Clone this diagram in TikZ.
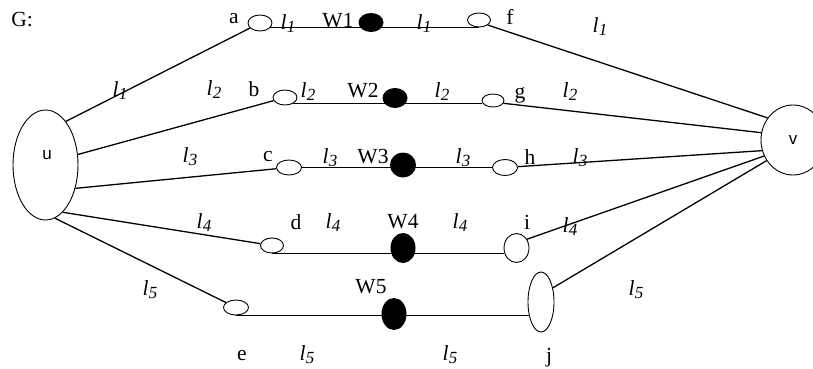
\documentclass[tikz,border=0pt]{standalone}
\usepackage{fontspec}
\setmainfont{Liberation Serif}
\newfontfamily\sansf{Liberation Sans}
\usetikzlibrary{shapes.geometric}
\newcommand{\lab}[1]{\textit{l}\kern0.3pt{\fontsize{17}{17}\selectfont\raisebox{-3pt}{\textit{#1}}}}
\begin{document}
\begin{tikzpicture}[x=1pt,y=-1pt,
  txt/.style={font=\fontsize{21.5}{24}\selectfont, inner sep=0pt},
  sanstxt/.style={font=\sansf\fontsize{17}{19}\selectfont, inner sep=0pt},
  hollow/.style={draw, ellipse, inner sep=0pt, line width=0.9pt},
  blackdot/.style={fill=black, ellipse, inner sep=0pt},
  wire/.style={line width=1.3pt}]
\useasboundingbox (0,0) rectangle (813,369);
% big vertices
\node[hollow, minimum width=65pt, minimum height=110pt] (u) at (45.5,165) {};
\node[sanstxt] (ul) at (47,155) {u};
\node[hollow, minimum width=64pt, minimum height=70pt] (v) at (793,140) {};
\node[sanstxt] (vl) at (793,140) {v};
% small open vertices
\node[hollow, minimum width=24pt, minimum height=16pt] (a) at (260,23) {};
\node[hollow, minimum width=23pt, minimum height=14pt] (f) at (479,20) {};
\node[hollow, minimum width=24pt, minimum height=15pt] (b) at (285,97.5) {};
\node[hollow, minimum width=22pt, minimum height=13pt] (g) at (493,100.5) {};
\node[hollow, minimum width=25pt, minimum height=15pt] (c) at (289,167.5) {};
\node[hollow, minimum width=25pt, minimum height=16pt] (h) at (505,167.5) {};
\node[hollow, minimum width=23pt, minimum height=15pt] (d) at (272,245.5) {};
\node[hollow, minimum width=25pt, minimum height=29pt] (i) at (516.5,248) {};
\node[hollow, minimum width=25pt, minimum height=15pt] (e) at (236,307.5) {};
\node[hollow, minimum width=26pt, minimum height=60pt] (j) at (541,302) {};
% lines from u
\draw[wire] (u.65) -- (a);
\draw[wire] (u.18) -- (b);
\draw[wire] (u.-38) -- (c);
\draw[wire] (u.-70) -- (d);
\draw[wire] (u.-80) -- (e);
% horizontal paths
\draw[wire] (a.-25) -- (a.-25 -| f.south);
\draw[wire] (b.-40) -- (b.-40 -| g.west);
\draw[wire] (c) -- (h);
\draw[wire] (d.south) -- (d.south -| i.204);
\draw[wire] (e.south) -- (e.south -| j.228);
% lines to v
\draw[wire] (f.-30) -- (v.139);
\draw[wire] (g.-15) -- (v.167);
\draw[wire] (h) -- (v.199);
\draw[wire] (i.40) -- (v.209);
\draw[wire] (j.50) -- (v.218);
% black W vertices
\node[blackdot, minimum width=25pt, minimum height=19pt] (w1) at (371,22.5) {};
\node[blackdot, minimum width=25pt, minimum height=20pt] (w2) at (395,98) {};
\node[blackdot, minimum width=26pt, minimum height=25pt] (w3) at (403,165) {};
\node[blackdot, minimum width=25pt, minimum height=30pt] (w4) at (403,248) {};
\node[blackdot, minimum width=25pt, minimum height=32pt] (w5) at (394,314) {};
% texts
\node[txt] (G) at (22,20) {G:};
\node[txt] (la) at (234,19) {a};
\node[txt] (lf) at (510,17) {f};
\node[txt] (lb) at (254,89) {b};
\node[txt] (lg) at (520,95) {g};
\node[txt] (lc) at (268,157) {c};
\node[txt] (lh) at (530,157) {h};
\node[txt] (ld) at (296,222) {d};
\node[txt] (li) at (527,222) {i};
\node[txt] (le) at (242,356) {e};
\node[txt] (lj) at (549,358) {j};
\node[txt] (tw1) at (338,21) {W1};
\node[txt] (tw2) at (363,91) {W2};
\node[txt] (tw3) at (373,157) {W3};
\node[txt] (tw4) at (403,222) {W4};
\node[txt] (tw5) at (371,287) {W5};
% edge labels
\node[txt] (l1a) at (120,91) {\lab{1}};
\node[txt] (l1b) at (288,24) {\lab{1}};
\node[txt] (l1c) at (424,24) {\lab{1}};
\node[txt] (l1d) at (600,27) {\lab{1}};
\node[txt] (l2a) at (214,90) {\lab{2}};
\node[txt] (l2b) at (308,92) {\lab{2}};
\node[txt] (l2c) at (442,92) {\lab{2}};
\node[txt] (l2d) at (570,92) {\lab{2}};
\node[txt] (l3a) at (190,157) {\lab{3}};
\node[txt] (l3b) at (330,158) {\lab{3}};
\node[txt] (l3c) at (463,158) {\lab{3}};
\node[txt] (l3d) at (580,158) {\lab{3}};
\node[txt] (l4a) at (204,223) {\lab{4}};
\node[txt] (l4b) at (333,223) {\lab{4}};
\node[txt] (l4c) at (460,223) {\lab{4}};
\node[txt] (l4d) at (570,227) {\lab{4}};
\node[txt] (l5a) at (150,290) {\lab{5}};
\node[txt] (l5b) at (307,355) {\lab{5}};
\node[txt] (l5c) at (450,355) {\lab{5}};
\node[txt] (l5d) at (636,290) {\lab{5}};
\end{tikzpicture}
\end{document}
